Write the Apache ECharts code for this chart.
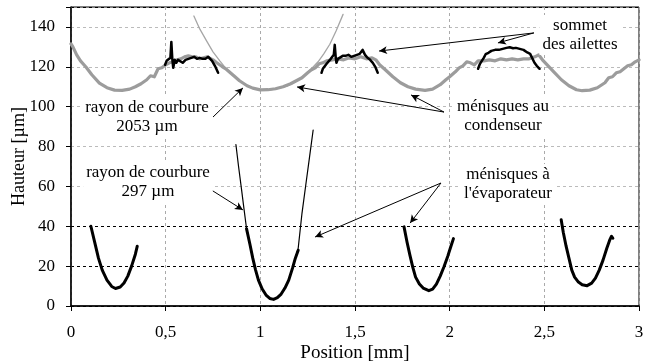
<!DOCTYPE html>
<html><head><meta charset="utf-8">
<script src="https://cdn.jsdelivr.net/npm/echarts@6/dist/echarts.min.js"></script>
<style>html,body{margin:0;padding:0;background:#fff}#c{width:646px;height:363px}</style>
</head><body><div id="c"></div>
<script>
// x tick labels (mm) and y tick labels (µm)
const xTicks = [0, 0.5, 1, 1.5, 2, 2.5, 3];
const yTicks = [0, 20, 40, 60, 80, 100, 120, 140];

// condenser meniscus profile (gray, thick)
const condenser = [[0,131.5],[0.01,130],[0.03,126],[0.05,123],[0.08,119.8],[0.11,116],[0.15,111.8],[0.19,109.5],[0.23,108.3],[0.27,108.2],[0.31,108.8],[0.34,110],[0.37,111.5],[0.4,113.5],[0.42,115.5],[0.43,116.5],[0.44,115],[0.45,116],[0.46,119],[0.48,119.5],[0.5,121],[0.52,122],[0.54,122.5],[0.56,123.5],[0.58,124],[0.6,125],[0.62,125.5],[0.63,126.5],[0.64,125],[0.66,125],[0.68,124],[0.7,124.5],[0.72,125],[0.73,126],[0.75,123.5],[0.77,122],[0.8,120],[0.82,118.8],[0.86,115.5],[0.89,113],[0.93,110.5],[0.96,109.3],[1.0,108.4],[1.04,108.5],[1.08,109],[1.12,110],[1.16,111.5],[1.19,113],[1.22,114.5],[1.25,117],[1.27,118.5],[1.29,119.5],[1.31,121.5],[1.33,122],[1.35,123],[1.38,123.5],[1.41,124],[1.44,123.5],[1.47,124.5],[1.5,124],[1.53,125],[1.56,124],[1.59,124.5],[1.61,123.5],[1.63,121],[1.66,118.5],[1.7,115],[1.74,112],[1.78,110],[1.82,108.8],[1.87,108.2],[1.91,108.8],[1.95,111],[1.98,113.5],[2.0,115],[2.03,117.5],[2.05,119.5],[2.07,120.5],[2.09,122.5],[2.11,122],[2.13,121],[2.15,123],[2.18,123],[2.21,123.5],[2.24,123],[2.27,124],[2.3,123.5],[2.33,124],[2.36,123.5],[2.39,124],[2.42,124],[2.45,125],[2.47,126],[2.49,123.5],[2.52,120.5],[2.55,117.5],[2.59,113.5],[2.63,110.5],[2.67,108.5],[2.7,108],[2.74,108.3],[2.78,109.5],[2.82,112],[2.84,114.5],[2.86,115],[2.88,117],[2.9,117.5],[2.92,119],[2.94,120.5],[2.96,121],[2.98,122.5],[3.0,123.5]];

// fin tops (black)
const fin1 = [[0.497,121],[0.505,123],[0.515,122],[0.525,124.5],[0.53,132.5],[0.535,124],[0.54,119.5],[0.548,123.5],[0.556,122],[0.565,123.5],[0.575,122.5],[0.59,122],[0.605,123.5],[0.62,124],[0.635,124.5],[0.65,125],[0.665,124],[0.68,124.5],[0.695,124],[0.71,124],[0.725,125],[0.735,125.5],[0.745,123],[0.76,120.5],[0.777,117]];
const fin2 = [[1.323,117],[1.33,119],[1.34,118],[1.35,121.5],[1.36,122],[1.372,124],[1.38,124.5],[1.388,126],[1.393,131],[1.398,125],[1.402,122],[1.41,124],[1.42,124.5],[1.435,125.5],[1.45,125.5],[1.465,126],[1.48,125],[1.495,125.5],[1.51,126],[1.525,126.5],[1.54,128.5],[1.553,126],[1.566,124.5],[1.58,123.5],[1.594,122],[1.607,120],[1.62,117]];
const fin3 = [[2.15,119],[2.16,121.5],[2.17,123],[2.18,124.5],[2.19,126.3],[2.205,127],[2.22,128],[2.24,128.5],[2.26,128.5],[2.28,129],[2.3,129.5],[2.317,129.8],[2.335,129.3],[2.35,129.5],[2.37,129],[2.39,128.5],[2.41,127.2],[2.425,126.5],[2.435,125.5],[2.448,122],[2.46,120.5],[2.475,119]];

// evaporator menisci (black, thick)
const evap1 = [[0.105,40],[0.125,32],[0.145,24],[0.165,18],[0.19,13],[0.215,9.8],[0.235,8.8],[0.26,9.5],[0.28,11.5],[0.3,15],[0.32,20],[0.34,26],[0.35,30]];
const evap2 = [[0.927,38.8],[0.945,31],[0.96,24],[0.975,18],[0.99,13],[1.01,8.5],[1.03,5.5],[1.05,3.8],[1.07,3.3],[1.09,4.2],[1.11,6],[1.13,9],[1.15,13],[1.17,19],[1.185,24],[1.2,28]];
const evap3 = [[1.759,39.7],[1.775,32],[1.79,25.5],[1.805,19.5],[1.82,14.5],[1.84,11],[1.86,9],[1.89,7.7],[1.91,8.5],[1.93,11],[1.95,15],[1.97,19.7],[1.99,25],[2.005,29.5],[2.02,33.8]];
const evap4 = [[2.589,43.3],[2.6,37],[2.615,30],[2.63,24],[2.645,18],[2.66,14.5],[2.68,12],[2.7,10.7],[2.726,10.2],[2.75,11.5],[2.77,14],[2.79,18],[2.81,23],[2.83,29],[2.845,33],[2.855,35],[2.862,34]];

// fitted circles (thin)
const fit2053 = [[0.649,145.5],[0.68,139],[0.716,133],[0.75,127.5],[0.786,123],[0.82,119],[0.857,115.5],[0.89,113],[0.927,110.5],[0.97,109],[1.015,108.3],[1.06,108.5],[1.1,109.3],[1.14,110.3],[1.173,111.8],[1.21,114],[1.244,116.8],[1.275,119.5],[1.305,122.5],[1.335,126.5],[1.367,131.3],[1.4,138],[1.437,146.3]];
const fit297 = [[0.871,81],[0.885,70],[0.9,59],[0.914,48.5],[0.927,39],[0.945,30.5],[0.96,24],[0.975,18],[0.99,13],[1.01,8.5],[1.03,5.5],[1.05,3.8],[1.07,3.3],[1.09,4.2],[1.11,6],[1.13,9],[1.15,13],[1.17,19],[1.185,24],[1.2,29],[1.22,46.5],[1.24,60.7],[1.26,74.8],[1.279,88.3]];

// annotation arrows: [from, to] in data units
const arrows = [
  [[0.750,94.8],[0.908,109.4]],
  [[0.708,60.2],[0.908,48.2]],
  [[1.970,97.3],[1.796,105.9]],
  [[1.970,97.3],[1.194,109.9]],
  [[2.445,137.0],[1.627,127.9]],
  [[2.445,137.0],[2.255,132.0]],
  [[1.954,61.7],[1.289,34.6]],
  [[1.954,61.7],[1.791,41.6]]
];

// annotation texts
const notes = [
  {t:'rayon de courbure\n2053 µm', p:[147,117]},
  {t:'rayon de courbure\n297 µm', p:[148,182]},
  {t:'sommet\ndes ailettes', p:[580,35]},
  {t:'ménisques au\ncondenseur', p:[503,116]},
  {t:'ménisques à\nl\'évaporateur', p:[508,184]}
];

const FONT = 'Liberation Serif';
const chart = echarts.init(document.getElementById('c'), null, {renderer:'canvas'});
function line(data, color, width, z) {
  return {type:'line', data, showSymbol:false, symbol:'none', smooth:false, silent:true, z,
    lineStyle:{color, width, cap:'round', join:'round'}, animation:false};
}
const series = [
  line(fit2053, '#a6a6a6', 1.3, 2),
  line(condenser, '#9c9c9c', 3.2, 3),
  line(fin1, '#000', 2.5, 4),
  line(fin2, '#000', 2.5, 4),
  line(fin3, '#000', 2.5, 4),
  line(evap1, '#000', 3, 4),
  line(evap2, '#000', 3, 4),
  line(evap3, '#000', 3, 4),
  line(evap4, '#000', 3, 4),
  line(fit297, '#000', 1.2, 5),
  {type:'line', data:[], z:6, animation:false,
    markLine:{silent:true, symbol:['none','arrow'], symbolSize:[6,8], animation:false,
      label:{show:false}, lineStyle:{color:'#000', width:1, type:'solid'},
      data: arrows.map(a => [{coord:a[0]},{coord:a[1]}])}}
];
chart.setOption({
  animation:false,
  grid:{left:71, right:7, top:7, bottom:57, containLabel:false, outerBoundsMode:'none',
    show:true, borderColor:'#000', borderWidth:1, backgroundColor:'transparent'},
  xAxis:{type:'value', min:xTicks[0], max:xTicks[xTicks.length-1], interval:0.5,
    name:'Position [mm]', nameLocation:'middle', nameGap:38, nameMoveOverlap:false,
    nameTextStyle:{fontFamily:FONT, fontSize:19, color:'#000'},
    axisLine:{lineStyle:{color:'#000', width:1.5}},
    axisTick:{show:true, length:5, lineStyle:{color:'#000'}},
    axisLabel:{fontFamily:FONT, fontSize:17, color:'#000', margin:18,
      formatter:v => String(v).replace('.',',')},
    splitLine:{show:true, lineStyle:{color:'#aaa', type:[3,3], width:1}}},
  yAxis:{type:'value', min:0, max:150, interval:20,
    name:'Hauteur [µm]', nameLocation:'middle', nameGap:43, nameRotate:90, nameMoveOverlap:false,
    nameTextStyle:{fontFamily:FONT, fontSize:18, color:'#000'},
    axisLine:{show:true, lineStyle:{color:'#000', width:1.5}},
    axisTick:{show:true, length:5, lineStyle:{color:'#000'}},
    axisLabel:{fontFamily:FONT, fontSize:17, color:'#000', margin:16,
      formatter:v => yTicks.indexOf(v) >= 0 ? String(v) : ''},
    splitLine:{show:true, lineStyle:{color:['#000','#000','#000','#bbb','#bbb','#bbb','#bbb','#bbb','#000'], type:[3,3], width:1}}},
  graphic: notes.map(n => ({type:'text', x:n.p[0], y:n.p[1], z:100, silent:true,
    style:{text:n.t, align:'center', verticalAlign:'middle', fontFamily:FONT, fontSize:17,
      lineHeight:19, fill:'#000', backgroundColor:'#fff', padding:[1,3]}})),
  series
});
</script></body></html>
